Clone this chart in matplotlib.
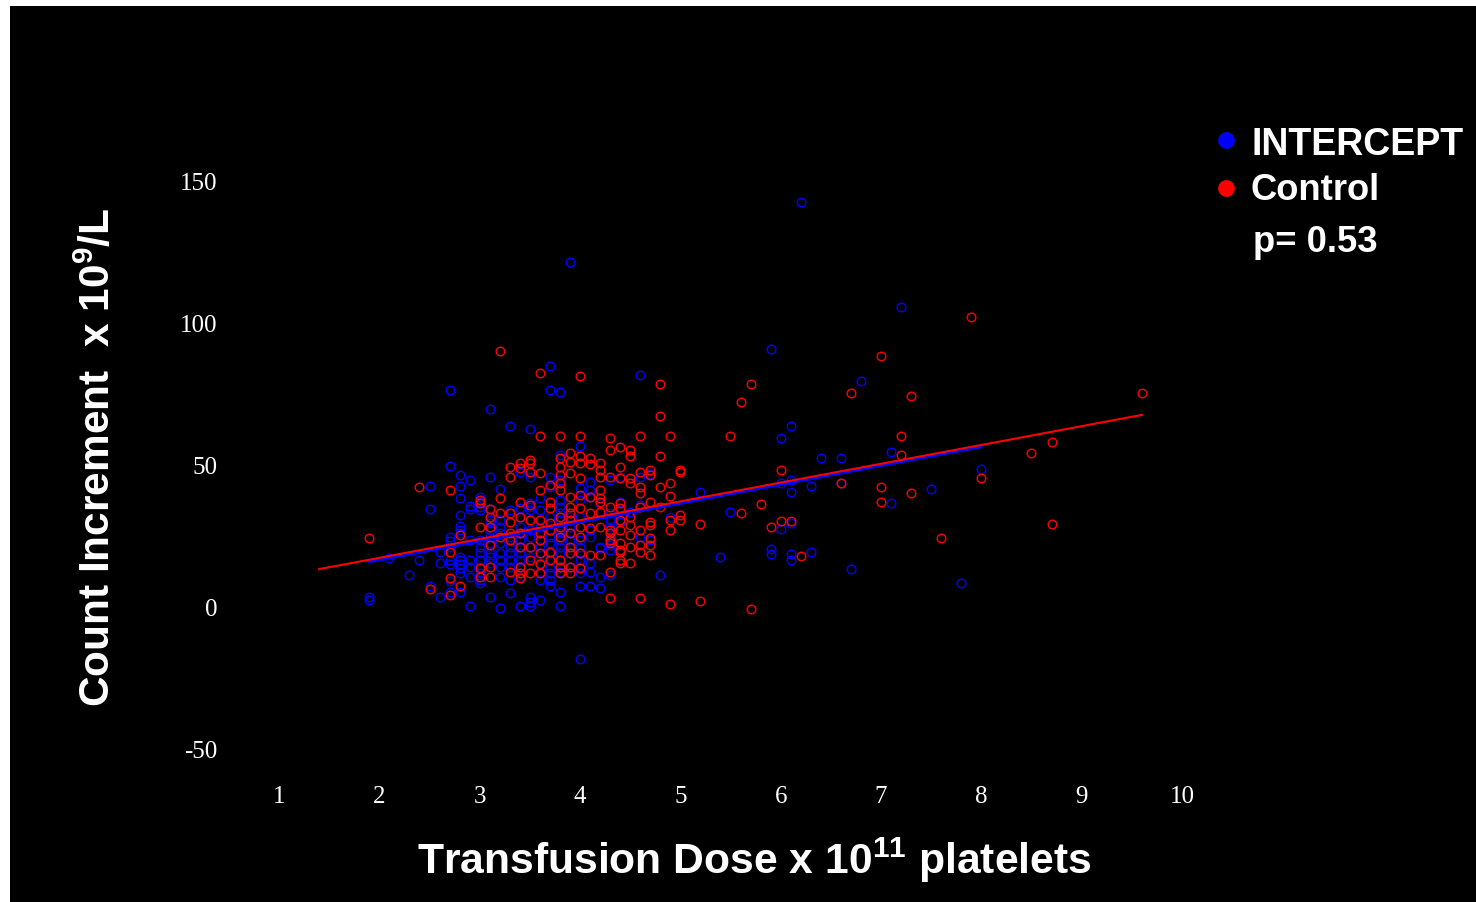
import matplotlib
matplotlib.use("Agg")
import matplotlib.pyplot as plt
from matplotlib.patches import Rectangle
from matplotlib.lines import Line2D

# ---------------- data ----------------
# INTERCEPT group: dose columns and the count increments observed at each dose
intercept_dose = [1.9, 2.1, 2.3, 2.4, 2.5, 2.6, 2.7, 2.8, 2.9, 3.0, 3.1, 3.2, 3.3, 3.4,
                  3.5, 3.6, 3.7, 3.8, 3.9, 4.0, 4.1, 4.2, 4.3, 4.4, 4.5, 4.6, 4.7, 4.8,
                  4.9, 5.2, 5.4, 5.5, 5.9, 6.0, 6.1, 6.2, 6.3, 6.4, 6.6, 6.7, 6.8, 7.1,
                  7.2, 7.5, 7.8, 8.0]
intercept_incr = [
    [3.8, 2.8], [17.7], [11.7], [16.9], [43.1, 34.7, 7.9], [19.8, 15.7, 4.0],
    [76.9, 49.9, 24.9, 23.7, 21.6, 16.9, 15.5, 9.6, 5.8],
    [46.9, 43.1, 38.8, 32.7, 28.9, 27.5, 26.3, 18.1, 16.9, 15.5, 14.0, 12.4, 5.8],
    [45.1, 35.9, 34.7, 23.9, 16.9, 14.6, 11.0, 0.8],
    [39.0, 37.4, 35.4, 34.5, 23.9, 21.6, 19.2, 16.9, 14.6, 12.2, 9.9, 8.7],
    [70.0, 46.0, 34.7, 31.0, 29.8, 27.5, 25.1, 22.8, 19.2, 18.1, 15.7, 4.0],
    [41.9, 31.0, 28.6, 26.3, 22.8, 19.2, 16.9, 14.6, 11.0, -0.1],
    [64.1, 34.5, 25.1, 21.6, 19.2, 16.9, 14.6, 9.9, 5.2],
    [48.0, 35.1, 32.2, 28.6, 26.3, 23.9, 21.6, 19.2, 16.9, 14.6, 11.0, 0.8],
    [62.9, 46.2, 36.9, 35.7, 34.5, 31.0, 27.5, 25.1, 21.6, 18.1, 4.0, 2.2, 0.8],
    [38.6, 34.5, 28.6, 26.3, 23.9, 21.6, 19.2, 15.7, 12.8, 9.9, 2.8],
    [85.2, 76.9, 46.2, 42.7, 32.2, 27.5, 25.1, 22.8, 19.2, 16.9, 14.6, 12.2, 9.9, 7.7],
    [75.9, 53.9, 45.1, 38.0, 35.7, 33.3, 31.0, 27.5, 26.3, 23.9, 21.6, 19.2, 16.9,
     14.6, 12.8, 5.8, 0.8],
    [122.0, 32.2, 28.6, 26.3, 23.9, 19.2, 14.6],
    [57.0, 42.1, 38.0, 32.2, 23.9, 21.6, 19.2, 16.9, 14.6, 12.2, 7.7, -18.1],
    [44.5, 41.5, 39.2, 27.5, 25.1, 15.7, 12.8, 7.7],
    [36.9, 21.6, 21.0, 11.0, 6.9],
    [45.1, 33.3, 31.0, 28.6, 26.3, 25.1, 23.9, 22.2, 20.4, 11.6],
    [46.0, 37.4, 31.0, 30.4],
    [33.9],
    [81.9, 46.0, 36.3, 25.1],
    [47.2, 23.9],
    [11.7],
    [32.2],
    [40.7],
    [17.8],
    [33.9],
    [91.1, 20.9, 19.0],
    [59.7, 43.9, 27.9],
    [64.1, 45.1, 40.7, 29.8, 19.0, 16.9],
    [143.1],
    [43.1, 19.8],
    [52.9],
    [52.9, 43.9],
    [13.7],
    [79.9],
    [54.9, 36.9],
    [106.1],
    [41.9],
    [8.9],
    [48.9],
]

# Control group
control_dose = [1.9, 2.4, 2.5, 2.7, 2.8, 3.0, 3.1, 3.2, 3.3, 3.4, 3.5, 3.6, 3.7, 3.8,
                3.9, 4.0, 4.1, 4.2, 4.3, 4.4, 4.5, 4.6, 4.7, 4.8, 4.9, 5.0, 5.2, 5.5,
                5.6, 5.7, 5.8, 5.9, 6.0, 6.1, 6.2, 6.6, 6.7, 7.0, 7.2, 7.3, 7.6, 7.9,
                8.0, 8.5, 8.7, 9.6]
control_incr = [
    [24.6], [42.6], [6.6], [41.5, 19.8, 10.4, 4.6], [25.7, 7.7],
    [38.1, 36.9, 28.6, 14.0, 10.8],
    [34.7, 32.2, 28.4, 22.2, 14.6, 11.0],
    [90.6, 38.6, 33.3, 25.1],
    [49.8, 46.0, 33.3, 30.4, 26.3, 23.9, 12.8],
    [50.9, 49.2, 37.4, 32.2, 26.3, 21.6, 14.6, 12.4, 10.4],
    [52.1, 50.9, 48.0, 36.3, 31.0, 21.6, 16.9, 12.4],
    [82.6, 60.6, 47.4, 41.5, 31.0, 26.3, 23.9, 19.2, 15.5, 12.2],
    [43.3, 37.4, 35.1, 29.8, 27.5, 19.8, 16.9],
    [60.6, 52.7, 49.8, 46.8, 43.9, 41.5, 32.2, 28.6, 25.1, 16.9, 14.6, 12.4],
    [54.5, 51.5, 47.4, 39.2, 35.7, 33.3, 31.0, 26.3, 21.6, 19.2, 14.6, 12.2],
    [81.6, 60.6, 53.6, 50.9, 45.7, 39.8, 35.1, 28.6, 25.1, 19.2, 14.0],
    [52.7, 50.7, 39.2, 33.3, 28.1, 18.7],
    [50.9, 48.6, 46.2, 41.5, 38.6, 37.4, 33.9, 28.6, 18.7],
    [59.7, 55.6, 46.2, 35.7, 27.5, 26.3, 23.9, 22.8, 12.8, 3.6],
    [56.8, 49.8, 45.7, 36.9, 35.1, 31.0, 27.5, 22.8, 20.4, 19.8, 16.9, 15.7],
    [55.6, 53.6, 45.7, 43.9, 32.2, 29.2, 25.7, 21.6, 15.7],
    [60.6, 48.0, 42.7, 40.4, 35.7, 27.5, 22.2, 19.8, 3.6],
    [48.6, 46.8, 37.4, 30.4, 29.2, 24.5, 22.2, 18.7],
    [78.8, 67.6, 53.5, 42.7, 35.7],
    [60.6, 43.9, 39.4, 31.0, 27.5, 1.4],
    [48.6, 48.0, 32.7, 31.0],
    [29.6, 2.6],
    [60.5],
    [72.7, 33.6],
    [78.8, -0.5],
    [36.6],
    [28.6],
    [48.6, 30.7],
    [30.7],
    [18.4],
    [43.9],
    [75.6],
    [88.7, 42.6, 37.4],
    [60.5, 53.8],
    [74.7, 40.6],
    [24.6],
    [102.6],
    [45.8],
    [54.6],
    [58.5, 29.6],
    [75.6],
]

# fitted regression lines (end points)
intercept_fit_x = [1.9, 8.0]
intercept_fit_y = [16.2, 56.7]
control_fit_x = [1.4, 9.6]
control_fit_y = [13.7, 68.0]

x_ticks = [1, 2, 3, 4, 5, 6, 7, 8, 9, 10]
y_ticks = [-50, 0, 50, 100, 150]
series_names = ["INTERCEPT", "Control"]
p_text = "p= 0.53"

# ---------------- figure ----------------
W, H = 1476, 902
fig = plt.figure(figsize=(W / 100, H / 100), dpi=100, facecolor="white")
fig.add_artist(Rectangle((10 / W, 0), 1 - 10 / W, 1 - 6 / H, transform=fig.transFigure,
                         facecolor="black", edgecolor="none", zorder=-10))

# axes placement in pixels
L_px, R_px = 238.9, 1222.1
T_px, B_px = 153.6, 778.4
ax = fig.add_axes([L_px / W, 1 - B_px / H, (R_px - L_px) / W, (B_px - T_px) / H])
ax.set_facecolor("none")
ax.set_xlim(0.6, 10.4)
ax.set_ylim(-60, 160)
for s in ax.spines.values():
    s.set_visible(False)

BLUE = (0, 0, 1)
RED = (1, 0, 0)

bx = [d for d, vals in zip(intercept_dose, intercept_incr) for _ in vals]
by = [v for vals in intercept_incr for v in vals]
rx = [d for d, vals in zip(control_dose, control_incr) for _ in vals]
ry = [v for vals in control_incr for v in vals]

ax.plot(bx, by, linestyle="none", marker="o", ms=6.2, mfc="none", mec=BLUE, mew=1.0,
        clip_on=False)
ax.plot(rx, ry, linestyle="none", marker="o", ms=6.2, mfc="none", mec=RED, mew=1.0,
        clip_on=False)
ax.plot(intercept_fit_x, intercept_fit_y, color=BLUE, lw=1.8, clip_on=False)
ax.plot(control_fit_x, control_fit_y, color=RED, lw=1.5, clip_on=False)

serif = "Liberation Serif"
ax.set_xticks(x_ticks)
ax.set_xticklabels([str(t) for t in x_ticks], fontfamily=serif, fontsize=18, color="white")
ax.set_yticks(y_ticks)
ax.set_yticklabels([str(t) for t in y_ticks], fontfamily=serif, fontsize=18, color="white")
ax.tick_params(axis="both", length=0)
ax.tick_params(axis="x", pad=5.5)
ax.tick_params(axis="y", pad=15.5)

plt.rcParams["mathtext.fontset"] = "custom"
plt.rcParams["mathtext.rm"] = "Liberation Sans:bold"
plt.rcParams["mathtext.bf"] = "Liberation Sans:bold"

sans = "Liberation Sans"
fig.text(98 / W, 1 - 457 / H, r"Count Increment  x 10$\mathregular{^{9}}$/L", rotation=90,
         ha="center", va="center", fontfamily=sans, fontweight="bold", fontsize=30.5,
         color="white")
fig.text(754 / W, 1 - 860 / H, r"Transfusion Dose x 10$\mathregular{^{11}}$ platelets",
         ha="center", va="center", fontfamily=sans, fontweight="bold", fontsize=30.7,
         color="white")

# legend
fig.add_artist(Line2D([1226 / W], [1 - 140 / H], marker="o", ms=11, color=BLUE,
                      linestyle="none", transform=fig.transFigure))
fig.add_artist(Line2D([1226 / W], [1 - 188 / H], marker="o", ms=11, color=RED,
                      linestyle="none", transform=fig.transFigure))
fig.text(1251 / W, 1 - 155 / H, series_names[0], ha="left", va="baseline", fontfamily=sans,
         fontweight="bold", fontsize=27, color="white")
fig.text(1251 / W, 1 - 200.5 / H, series_names[1], ha="left", va="baseline", fontfamily=sans,
         fontweight="bold", fontsize=26.2, color="white")
fig.text(1253 / W, 1 - 251.5 / H, p_text, ha="left", va="baseline", fontfamily=sans,
         fontweight="bold", fontsize=26.2, color="white")

fig.savefig("out.png", dpi=100, facecolor="white")
